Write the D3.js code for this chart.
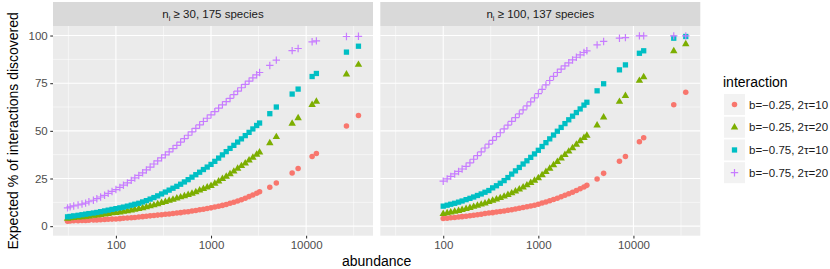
<!DOCTYPE html>
<html>
<head>
<meta charset="utf-8">
<script src="https://cdn.jsdelivr.net/npm/d3@7"></script>
<style>
  body { margin: 0; background: #fff; }
  text { font-family: "Liberation Sans", Arial, Helvetica, sans-serif; }
</style>
</head>
<body>
<div id="chart"></div>
<script>
const svgWidth = 830;
const svgHeight = 269;

// species abundances (shared by both facets; right facet keeps those >= 100)
const abundance = [31, 33, 36, 40, 44, 48, 52, 58, 63, 69, 76, 83, 91,
  100, 110, 120, 132, 145, 158, 174,
  191, 209, 229, 251, 275, 302,
  331, 363, 398, 437, 479, 525,
  575, 631, 692, 759, 832, 912,
  1000, 1096, 1202, 1318, 1445, 1585,
  1738, 1905, 2089, 2291, 2512, 2754,
  3020, 3240,
  4150, 4860, 7130, 8240, 11560, 12820, 26550, 35500];

const seriesLabels = ["b=\u22120.25, 2\u03C4=10", "b=\u22120.25, 2\u03C4=20", "b=\u22120.75, 2\u03C4=10", "b=\u22120.75, 2\u03C4=20"];
const seriesColors = ["#F8766D", "#7CAE00", "#00BFC4", "#C77CFF"];
const seriesShapes = ["circle", "triangle", "square", "plus"];

const facetMin = [30, 100];

// n_i >= 30 facet
const left1 = [2.6, 2.7, 2.8, 2.9, 2.95, 3.0, 3.1, 3.2, 3.3, 3.4, 3.5, 3.6, 3.7,
  3.8, 3.95, 4.1, 4.3, 4.45, 4.6, 4.8, 5.0, 5.2, 5.4, 5.6, 5.8, 6.0,
  6.2, 6.4, 6.7, 6.9, 7.1, 7.4, 7.6, 7.9, 8.2, 8.6, 8.9, 9.3,
  9.6, 10.0, 10.4, 10.9, 11.4, 12.0, 12.6, 13.2, 13.9, 14.7, 15.5, 16.4, 17.3, 18.0,
  20.4, 22.7, 27.9, 30.2, 36.5, 38.1, 52.5, 58.1];
const left2 = [4.0, 4.2, 4.4, 4.6, 4.8, 5.0, 5.2, 5.5, 5.7, 6.0, 6.2, 6.5, 6.8,
  7.0, 7.3, 7.6, 7.9, 8.3, 8.7, 9.1, 9.5, 10.0, 10.5, 11.0, 11.6, 12.2,
  12.8, 13.4, 14.0, 14.6, 15.2, 15.8, 16.4, 17.1, 17.9, 18.8, 19.6, 20.4,
  21.2, 22.3, 23.5, 24.8, 26.0, 27.3, 28.7, 30.2, 31.6, 33.0, 34.5, 36.0, 37.6, 38.7,
  43.6, 46.8, 53.8, 56.7, 63.7, 65.4, 79.7, 84.7];
const left3 = [4.9, 5.1, 5.4, 5.7, 6.0, 6.3, 6.6, 6.9, 7.2, 7.6, 8.0, 8.4, 8.8,
  9.2, 9.6, 10.0, 10.5, 11.0, 11.5, 12.0, 12.7, 13.4, 14.2, 15.0, 15.9, 16.9,
  17.9, 18.9, 19.9, 20.9, 22.0, 23.2, 24.4, 25.7, 27.0, 28.3, 29.7, 31.0,
  32.4, 34.0, 35.7, 37.4, 39.1, 40.8, 42.4, 44.1, 45.8, 47.5, 49.2, 51.0, 52.8, 54.1,
  59.0, 62.5, 69.3, 71.9, 78.5, 80.1, 91.3, 94.4];
const left4 = [9.6, 10.1, 10.6, 11.1, 11.6, 12.1, 12.8, 13.6, 14.4, 15.3, 16.2, 17.2, 18.2,
  19.2, 20.3, 21.5, 22.7, 24.0, 25.3, 26.6, 28.0, 29.5, 31.0, 32.6, 34.2, 35.8,
  37.4, 39.0, 40.7, 42.4, 44.1, 45.9, 47.7, 49.5, 51.3, 53.1, 54.9, 56.6,
  58.4, 60.1, 61.9, 63.6, 65.3, 67.0, 69.0, 70.8, 72.6, 74.4, 76.1, 77.8, 79.4, 80.6,
  84.3, 87.1, 92.1, 93.2, 96.7, 97.2, 99.5, 99.6];

// n_i >= 100 facet
const right1 = [4.0, 4.2, 4.4, 4.6, 4.8, 5.0, 5.2, 5.5, 5.7, 6.0, 6.3, 6.6, 6.9,
  7.1, 7.4, 7.7, 8.0, 8.3, 8.6, 9.0, 9.4, 9.8, 10.2, 10.6, 11.0,
  11.5, 12.1, 12.7, 13.3, 14.0, 14.7, 15.4, 16.2, 17.0, 17.8, 18.7, 19.6, 20.6, 21.4,
  24.8, 27.7, 34.0, 36.6, 44.3, 46.4, 63.7, 70.3];
const right2 = [6.5, 6.9, 7.3, 7.7, 8.1, 8.6, 9.1, 9.6, 10.2, 10.8, 11.4, 12.0, 12.7,
  13.4, 14.1, 14.8, 15.6, 16.4, 17.3, 18.3, 19.3, 20.4, 21.5, 22.7, 23.9,
  25.2, 26.8, 28.5, 30.2, 32.0, 33.8, 35.6, 37.4, 39.2, 41.0, 42.8, 44.6, 46.3, 47.5,
  52.9, 57.1, 65.3, 68.4, 76.3, 78.2, 91.8, 95.5];
const right3 = [10.5, 11.0, 11.5, 12.0, 12.6, 13.2, 13.9, 14.6, 15.3, 16.1, 16.9, 17.8, 18.7,
  20.1, 21.2, 22.5, 23.9, 25.5, 27.3, 29.0, 30.8, 32.6, 34.3, 36.1, 37.9,
  39.8, 41.8, 43.8, 45.8, 47.8, 49.8, 51.8, 53.8, 55.8, 57.7, 59.6, 61.5, 63.5, 65.0,
  71.0, 74.7, 82.0, 84.6, 90.7, 92.0, 98.6, 99.5];
const right4 = [23.6, 24.8, 26.1, 27.4, 28.7, 30.0, 31.4, 33.2, 35.1, 37.0, 39.0, 41.0, 43.0,
  45.0, 47.0, 49.0, 51.0, 53.0, 55.0, 56.9, 58.9, 61.0, 63.1, 65.2, 67.3,
  69.5, 71.8, 74.1, 76.4, 78.6, 80.6, 82.4, 84.1, 85.7, 87.2, 88.6, 89.9, 91.1, 92.0,
  95.1, 96.9, 98.6, 98.9, 99.8, 99.8, 99.8, 99.8];

const facetSeries = [[left1, left2, left3, left4], [right1, right2, right3, right4]];
const facetSpecies = [175, 137];

const xTicks = [100, 1000, 10000];
const xMinor = [31.6, 316, 3162, 31623];
const yTicks = [0, 25, 50, 75, 100];
const yMinor = [12.5, 37.5, 62.5, 87.5];

const panelW = 320;
const panelX = [53, 380.3];
const stripTop = 2;
const panelTop = 26;
const panelBottom = 235.7;

const svg = d3.select("#chart").append("svg")
  .attr("width", svgWidth)
  .attr("height", svgHeight);

// log x scale with 5% expansion like ggplot
const ext = d3.extent(abundance).map(Math.log10);
const pad = (ext[1] - ext[0]) * 0.05;
const xDomain = [Math.pow(10, ext[0] - pad), Math.pow(10, ext[1] + pad)];

const y = d3.scaleLinear().domain([-5, 105]).range([panelBottom, panelTop]);

function markerPath(shape) {
  if (shape === "circle") return d3.symbol(d3.symbolCircle, 24)();
  if (shape === "triangle") return d3.symbol(d3.symbolTriangle, 24)();
  if (shape === "square") return d3.symbol(d3.symbolSquare, 28)();
  return "M-3.7,0H3.7M0,-3.7V3.7";
}

function drawMarker(sel, i) {
  const plus = seriesShapes[i] === "plus";
  sel.attr("d", markerPath(seriesShapes[i]))
    .attr("fill", plus ? "none" : seriesColors[i])
    .attr("stroke", plus ? seriesColors[i] : "none")
    .attr("stroke-width", plus ? 1.2 : 0);
}

facetSeries.forEach((series, f) => {
  const x = d3.scaleLog().domain(xDomain).range([panelX[f], panelX[f] + panelW]);
  const g = svg.append("g");

  // strip
  g.append("rect")
    .attr("x", panelX[f]).attr("y", stripTop)
    .attr("width", panelW).attr("height", panelTop - stripTop)
    .attr("fill", "#D9D9D9");
  const st = g.append("text")
    .attr("x", panelX[f] + panelW / 2).attr("y", 18)
    .attr("text-anchor", "middle")
    .attr("font-size", "11.5px")
    .attr("fill", "#1A1A1A");
  st.append("tspan").text("n");
  st.append("tspan").attr("font-size", "7.5px").attr("dy", 2.5).text("i");
  st.append("tspan").attr("dy", -2.5).text(` \u2265 ${facetMin[f]}, ${facetSpecies[f]} species`);

  // panel
  g.append("rect")
    .attr("x", panelX[f]).attr("y", panelTop)
    .attr("width", panelW).attr("height", panelBottom - panelTop)
    .attr("fill", "#EBEBEB");

  // grid
  g.selectAll(".ymin").data(yMinor).join("line")
    .attr("x1", panelX[f]).attr("x2", panelX[f] + panelW)
    .attr("y1", d => y(d)).attr("y2", d => y(d))
    .attr("stroke", "#fff").attr("stroke-width", 0.55);
  g.selectAll(".xmin").data(xMinor).join("line")
    .attr("y1", panelTop).attr("y2", panelBottom)
    .attr("x1", d => x(d)).attr("x2", d => x(d))
    .attr("stroke", "#fff").attr("stroke-width", 0.55);
  g.selectAll(".ymaj").data(yTicks).join("line")
    .attr("x1", panelX[f]).attr("x2", panelX[f] + panelW)
    .attr("y1", d => y(d)).attr("y2", d => y(d))
    .attr("stroke", "#fff").attr("stroke-width", 1.1);
  g.selectAll(".xmaj").data(xTicks).join("line")
    .attr("y1", panelTop).attr("y2", panelBottom)
    .attr("x1", d => x(d)).attr("x2", d => x(d))
    .attr("stroke", "#fff").attr("stroke-width", 1.1);

  // points, drawn series by series
  const abund = abundance.filter(a => a >= facetMin[f]);
  series.forEach((vals, i) => {
    const pts = abund.map((a, k) => ({ a: a, v: vals[k] }));
    g.append("g").selectAll("path").data(pts).join("path")
      .attr("transform", d => `translate(${x(d.a)},${y(d.v)})`)
      .call(drawMarker, i);
  });

  // bottom axis
  const xAxis = d3.axisBottom(x).tickValues(xTicks).tickFormat(d3.format("d")).tickSize(2.75).tickPadding(2.5);
  const ax = g.append("g").attr("transform", `translate(0,${panelBottom})`).call(xAxis);
  ax.select(".domain").remove();
  ax.selectAll("line").attr("stroke", "#333").attr("stroke-width", 1.07);
  ax.selectAll("text").attr("fill", "#4D4D4D").attr("font-size", "11.5px")
    .style("font-family", "'Liberation Sans', Arial, sans-serif");

  if (f === 0) {
    const yAxis = d3.axisLeft(y).tickValues(yTicks).tickSize(2.75).tickPadding(2.5);
    const ay = g.append("g").attr("transform", `translate(${panelX[f]},0)`).call(yAxis);
    ay.select(".domain").remove();
    ay.selectAll("line").attr("stroke", "#333").attr("stroke-width", 1.07);
    ay.selectAll("text").attr("fill", "#4D4D4D").attr("font-size", "11.5px")
      .style("font-family", "'Liberation Sans', Arial, sans-serif");
  }
});

// axis titles
svg.append("text")
  .attr("x", (panelX[0] + panelX[1] + panelW) / 2).attr("y", 265.5)
  .attr("text-anchor", "middle").attr("font-size", "14px").attr("fill", "#000")
  .text("abundance");
svg.append("text")
  .attr("transform", `translate(18,${(panelTop + panelBottom) / 2}) rotate(-90)`)
  .attr("text-anchor", "middle").attr("font-size", "14px").attr("fill", "#000")
  .text("Expected % of interactions discovered");

// legend
const legend = svg.append("g");
legend.append("text")
  .attr("x", 723).attr("y", 87)
  .attr("font-size", "14px").attr("fill", "#000")
  .text("interaction");
const keyY = d3.scalePoint().domain(seriesLabels).range([104.5, 172.7]);
seriesLabels.forEach((lab, i) => {
  const cy = keyY(lab);
  legend.append("rect")
    .attr("x", 724).attr("y", cy - 10.5)
    .attr("width", 21).attr("height", 21)
    .attr("fill", "#F2F2F2");
  legend.append("path")
    .attr("transform", `translate(734.5,${cy})`)
    .call(drawMarker, i);
  legend.append("text")
    .attr("x", 749).attr("y", cy + 4)
    .attr("font-size", "11.5px").attr("fill", "#1A1A1A")
    .text(lab);
});
</script>
</body>
</html>
